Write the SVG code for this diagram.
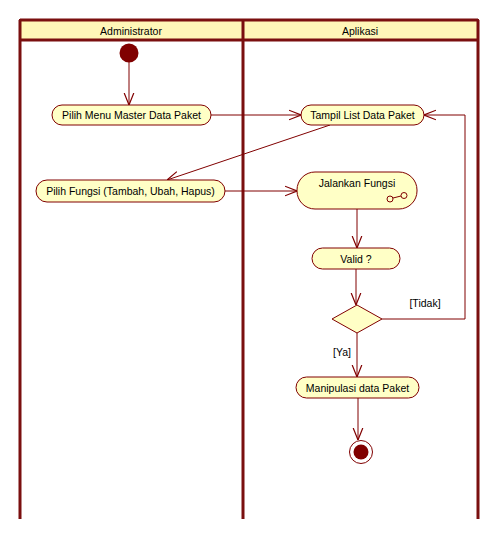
<svg xmlns="http://www.w3.org/2000/svg" width="500" height="539" viewBox="0 0 500 539">
<style>
.lane{fill:none;stroke:#7a0f0f;stroke-width:3}
.hdr{fill:#fff7b8;stroke:#7a0f0f;stroke-width:2}
.act{fill:#ffffc6;stroke:#800000;stroke-width:1}
.t{font-family:"Liberation Sans",Arial,sans-serif;font-size:10.5px;fill:#000;text-anchor:middle;dominant-baseline:central}
.c{fill:none;stroke:#800000;stroke-width:1}
</style>
<defs>
<marker id="a" markerWidth="12" markerHeight="12" refX="10" refY="5" orient="auto" markerUnits="userSpaceOnUse" viewBox="0 0 10 10">
<path d="M0,1 L10,5 L0,9" fill="none" stroke="#800000" stroke-width="1"/>
</marker>
</defs>
<rect x="0" y="0" width="500" height="539" fill="#fff"/>
<g id="lanes">
<rect class="hdr" x="20" y="20" width="458" height="20"/>
<line class="lane" x1="20" y1="20" x2="20" y2="519"/>
<line class="lane" x1="243" y1="20" x2="243" y2="519"/>
<line class="lane" x1="478" y1="20" x2="478" y2="519"/>
<line class="lane" x1="20" y1="20" x2="478" y2="20"/>
<line class="lane" x1="20" y1="40" x2="478" y2="40"/>
<text class="t" x="131" y="31">Administrator</text>
<text class="t" x="360" y="31">Aplikasi</text>
</g>
<g id="connectors">
<line class="c" x1="129" y1="62" x2="129" y2="105" marker-end="url(#a)"/>
<line class="c" x1="211" y1="115" x2="301" y2="115" marker-end="url(#a)"/>
<line class="c" x1="330" y1="125" x2="167" y2="180" marker-end="url(#a)"/>
<line class="c" x1="225" y1="191" x2="297" y2="191" marker-end="url(#a)"/>
<line class="c" x1="357" y1="209" x2="357" y2="248" marker-end="url(#a)"/>
<line class="c" x1="356" y1="269" x2="356" y2="305" marker-end="url(#a)"/>
<polyline class="c" points="382,319 465,319 465,115 424,115" marker-end="url(#a)"/>
<line class="c" x1="357" y1="333" x2="357" y2="377" marker-end="url(#a)"/>
<line class="c" x1="358" y1="398" x2="358" y2="440" marker-end="url(#a)"/>
<text class="t" x="425" y="303">[Tidak]</text>
<text class="t" x="342" y="352">[Ya]</text>
</g>
<g id="start"><circle cx="129" cy="53" r="9.5" fill="#800000"/></g>
<g id="pilihMenu"><rect class="act" x="52" y="105" width="159" height="20" rx="10"/><text class="t" x="131.5" y="115">Pilih Menu Master Data Paket</text></g>
<g id="tampilList"><rect class="act" x="301" y="105" width="123" height="20" rx="10"/><text class="t" x="362.5" y="115">Tampil List Data Paket</text></g>
<g id="pilihFungsi"><rect class="act" x="36" y="180" width="189" height="22" rx="11"/><text class="t" x="130.5" y="191">Pilih Fungsi (Tambah, Ubah, Hapus)</text></g>
<g id="jalankan"><rect class="act" x="297" y="172" width="120" height="37" rx="18"/><text class="t" x="357" y="183">Jalankan Fungsi</text>
<circle cx="390" cy="199" r="3" fill="none" stroke="#800000"/><circle cx="404" cy="195.5" r="3" fill="none" stroke="#800000"/><line x1="393" y1="198" x2="401" y2="196" stroke="#800000"/></g>
<g id="valid"><rect class="act" x="312" y="248" width="88" height="21" rx="10.5"/><text class="t" x="356" y="258.5">Valid ?</text></g>
<g id="decision"><polygon class="act" points="357,305 382,319 357,333 332,319"/></g>
<g id="manipulasi"><rect class="act" x="296" y="377" width="123" height="21" rx="10.5"/><text class="t" x="357.5" y="387.5">Manipulasi data Paket</text></g>
<g id="end"><circle cx="361" cy="452" r="11.5" fill="#fff" stroke="#800000"/><circle cx="361" cy="452" r="7.5" fill="#800000"/></g>
</svg>
